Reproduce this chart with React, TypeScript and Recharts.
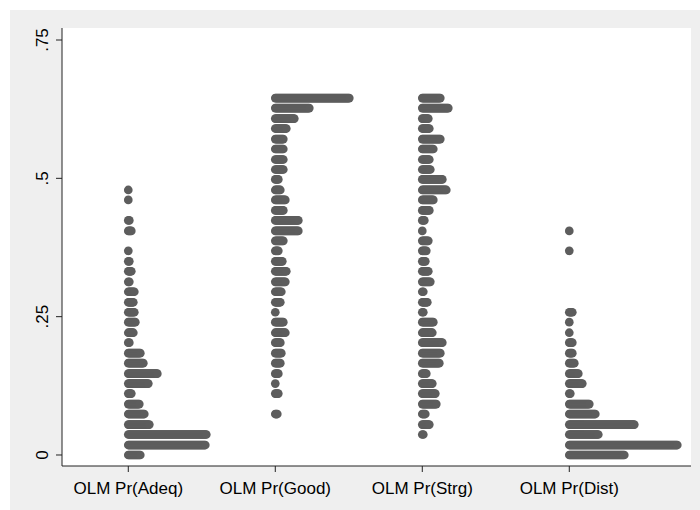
import React from 'react';
import { ScatterChart, Scatter, XAxis, YAxis, CartesianGrid } from 'recharts';

// Bin values (y) shared by all four variables, from bottom to top
const binValues = [
  0.0, 0.018, 0.037, 0.055, 0.074, 0.092, 0.111, 0.129, 0.147, 0.166,
  0.184, 0.203, 0.221, 0.24, 0.258, 0.276, 0.295, 0.313, 0.332, 0.35,
  0.369, 0.387, 0.405, 0.424, 0.442, 0.461, 0.479, 0.498, 0.516, 0.534,
  0.553, 0.571, 0.59, 0.608, 0.627, 0.645,
];

// Frequencies in each bin (index matches binValues)
const adeqCounts = [13, 78, 79, 22, 17, 12, 4, 21, 30, 16, 13, 2, 6, 8, 7, 6, 7, 2, 4, 2, 1, 0, 4, 2, 0, 1, 1, 0, 0, 0, 0, 0, 0, 0, 0, 0];
const goodCounts = [0, 0, 0, 0, 3, 0, 4, 1, 4, 6, 7, 6, 11, 9, 1, 6, 7, 11, 12, 8, 4, 9, 24, 24, 9, 11, 6, 4, 9, 9, 9, 9, 12, 20, 35, 75];
const strgCounts = [0, 0, 2, 8, 4, 15, 14, 11, 5, 18, 19, 21, 11, 12, 2, 6, 2, 9, 7, 4, 5, 7, 1, 3, 8, 12, 25, 21, 9, 8, 12, 19, 8, 7, 27, 19];
const distCounts = [56, 109, 30, 66, 27, 21, 2, 14, 10, 6, 4, 4, 1, 1, 4, 0, 0, 0, 0, 0, 1, 0, 1, 0, 0, 0, 0, 0, 0, 0, 0, 0, 0, 0, 0, 0];

const categories = ['OLM Pr(Adeq)', 'OLM Pr(Good)', 'OLM Pr(Strg)', 'OLM Pr(Dist)'];
const yTicks = [0, 0.25, 0.5, 0.75];
const yTickLabels = ['0', '.25', '.5', '.75'];

const allCounts = [adeqCounts, goodCounts, strgCounts, distCounts];

// horizontal offset between stacked dots, in category units (~1px)
const DOT_STEP = 1 / 147;
const DOT_R = 4.35;
const DOT_COLOR = '#5d5d5d';
const FONT = '"Liberation Sans", Arial, Helvetica, sans-serif';

const dots: { x: number; y: number }[] = [];
allCounts.forEach((counts, ci) => {
  counts.forEach((n, k) => {
    for (let j = 0; j < n; j++) {
      dots.push({ x: ci + 1 + j * DOT_STEP, y: binValues[k] });
    }
  });
});

const DotShape = (props: any) => {
  const { cx, cy } = props;
  if (cx == null || cy == null) return null;
  return <circle cx={cx} cy={cy} r={DOT_R} fill={DOT_COLOR} />;
};

const XTick = (props: any) => {
  const { x, y, payload } = props;
  return (
    <text x={x} y={y} dy="0.71em" textAnchor="middle" fill="#000" fontSize={17} fontFamily={FONT}>
      {categories[payload.value - 1]}
    </text>
  );
};

const YTick = (props: any) => {
  const { y, payload } = props;
  const idx = yTicks.indexOf(payload.value);
  return (
    <g transform={`translate(48,${y}) rotate(-90)`}>
      <text x={0} y={0} textAnchor="middle" fill="#000" fontSize={17} fontFamily={FONT}>
        {yTickLabels[idx]}
      </text>
    </g>
  );
};

export default function App() {
  return (
    <div style={{ position: 'absolute', left: 0, top: 0, width: 700, height: 510, background: '#ffffff' }}>
      <div style={{ position: 'absolute', left: 10, top: 10, width: 690, height: 500, background: '#efefef' }} />
      <div style={{ position: 'absolute', left: 0, top: 0 }}>
        <ScatterChart width={700} height={510} margin={{ top: 28, right: 9, bottom: 14, left: 0 }}>
          <CartesianGrid horizontal={false} vertical={false} fill="#ffffff" stroke="none" />
          <XAxis
            dataKey="x"
            type="number"
            domain={[0.549, 4.828]}
            allowDataOverflow
            ticks={[1, 2, 3, 4]}
            tick={<XTick />}
            tickSize={6}
            tickMargin={10}
            height={30}
            axisLine={{ stroke: '#222', strokeWidth: 1 }}
            tickLine={{ stroke: '#222', strokeWidth: 1 }}
            interval={0}
          />
          <YAxis
            dataKey="y"
            type="number"
            domain={[-0.0199, 0.7717]}
            allowDataOverflow
            ticks={yTicks}
            tick={<YTick />}
            tickSize={6}
            width={62}
            axisLine={{ stroke: '#222', strokeWidth: 1 }}
            tickLine={{ stroke: '#222', strokeWidth: 1 }}
            interval={0}
          />
          <Scatter data={dots} isAnimationActive={false} shape={<DotShape />} />
        </ScatterChart>
      </div>
    </div>
  );
}
